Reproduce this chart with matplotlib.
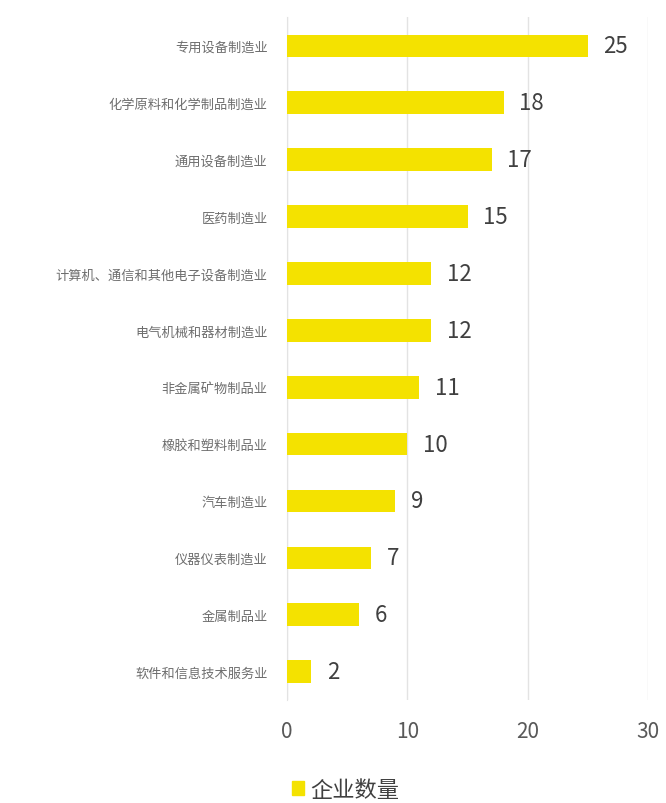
import matplotlib.pyplot as plt
from matplotlib.patches import Patch

plt.rcParams['font.family'] = ['Noto Sans CJK SC', 'DejaVu Sans']

# Industries and number of enterprises, top to bottom
industries = [
    '专用设备制造业',
    '化学原料和化学制品制造业',
    '通用设备制造业',
    '医药制造业',
    '计算机、通信和其他电子设备制造业',
    '电气机械和器材制造业',
    '非金属矿物制品业',
    '橡胶和塑料制品业',
    '汽车制造业',
    '仪器仪表制造业',
    '金属制品业',
    '软件和信息技术服务业',
]
counts = [25, 18, 17, 15, 12, 12, 11, 10, 9, 7, 6, 2]
x_ticks = [0, 10, 20, 30]

bar_color = '#F4E200'
text_grey = '#595959'

fig = plt.figure(figsize=(6.66, 8.04), dpi=100)
ax = fig.add_axes([0.431, 0.128, 0.542, 0.849])

y = list(range(len(industries)))
ax.barh(y, counts, height=0.4, color=bar_color, zorder=3)
for yi, v in zip(y, counts):
    ax.text(v + 1.3, yi, str(v), va='center', ha='left',
            fontsize=16, color='#404040')

ax.set_ylim(len(industries) - 0.5, -0.5)
ax.set_xlim(0, 30)
ax.set_yticks(y)
ax.set_yticklabels(industries, fontsize=9.5, color='#6e6e6e')
ax.set_xticks(x_ticks)
ax.set_xticklabels([str(t) for t in x_ticks], fontsize=15, color=text_grey)
ax.tick_params(axis='y', length=0, pad=14)
ax.tick_params(axis='x', length=0, pad=14)

ax.grid(axis='x', color='#E3E3E3', linewidth=1, zorder=0)
for side in ['top', 'right', 'bottom']:
    ax.spines[side].set_visible(False)
ax.spines['left'].set_color('#E3E3E3')

handle = Patch(color=bar_color, label='企业数量')
fig.legend(handles=[handle], loc='center', bbox_to_anchor=(0.519, 0.017),
           frameon=False, fontsize=16, handlelength=0.55, handleheight=0.55,
           handletextpad=0.3, labelcolor='#404040')

fig.savefig('out.png', dpi=100)
